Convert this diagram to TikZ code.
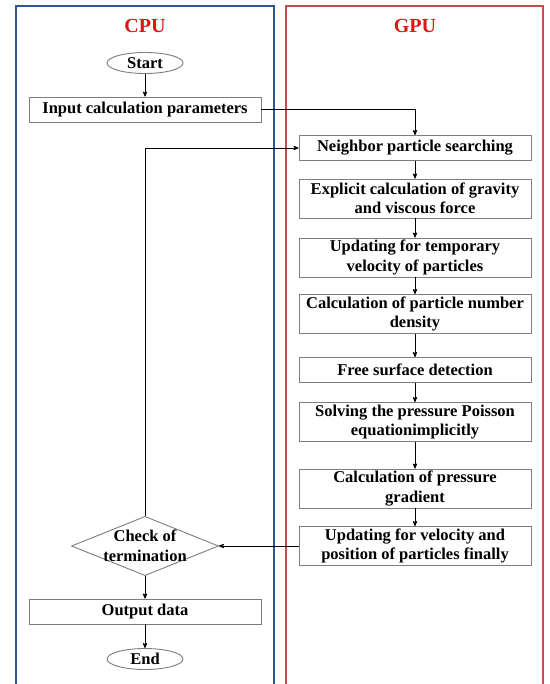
\documentclass[tikz,border=0pt]{standalone}
\usepackage{fontspec}
\setmainfont{Liberation Serif}
\usetikzlibrary{arrows}
\usetikzlibrary{shapes.geometric}
\definecolor{cpublue}{RGB}{46,84,150}
\definecolor{gpured}{RGB}{192,80,77}
\definecolor{titlered}{RGB}{225,20,20}
\definecolor{boxgray}{RGB}{125,125,125}

\begin{document}
\begin{tikzpicture}[x=1pt,y=-1pt,->,>=stealth',line width=0.8pt,
    proc node/.style={rectangle,draw=boxgray,line width=0.9pt,align=center,minimum width=232pt,minimum height=25pt,inner sep=2pt,font=\fontsize{16.5}{19.5}\selectfont\bfseries},
    tall node/.style={proc node,minimum height=39pt},
    term node/.style={ellipse,draw=boxgray,line width=0.9pt,minimum width=76pt,minimum height=21pt,inner sep=0pt,font=\fontsize{16.5}{19.5}\selectfont\bfseries},
    title node/.style={font=\fontsize{20}{24}\selectfont\bfseries,text=titlered}]
   \useasboundingbox (0,0) rectangle (549,684);
   % frames
   \draw[-,cpublue,line width=2.5pt] (16,6) rectangle (274,700);
   \draw[-,gpured,line width=2.5pt] (286,6) rectangle (543,700);
   \node[title node] (cputitle) at (145,26) {CPU};
   \node[title node] (gputitle) at (415,26) {GPU};
   % CPU side
   \node[term node] (start) at (145,63) {Start};
   \node[proc node] (input) at (145,109.5) {Input calculation parameters};
   \node[diamond,aspect=2.48,draw=boxgray,line width=0.9pt,inner sep=-2pt,align=center,font=\fontsize{16.5}{19.5}\selectfont\bfseries] (check) at (145,546) {Check of\\termination};
   \node[proc node] (output) at (145,611.5) {Output data};
   \node[term node] (finish) at (145,659) {End};
   % GPU side
   \node[proc node] (nbr) at (415,148) {Neighbor particle searching};
   \node[tall node] (grav) at (415,198.5) {Explicit calculation of gravity\\and viscous force};
   \node[tall node] (tempvel) at (415,257.5) {Updating for temporary\\velocity of particles};
   \node[tall node] (dens) at (415,314) {Calculation of particle number\\density};
   \node[proc node] (surf) at (415,370) {Free surface detection};
   \node[tall node] (poisson) at (415,422) {Solving the pressure Poisson\\equationimplicitly};
   \node[tall node] (grad) at (415,488.5) {Calculation of pressure\\gradient};
   \node[tall node] (finalvel) at (415,546) {Updating for velocity and\\position of particles finally};
   % connectors
   \path (start) edge (input);
   \draw (input.east) -| (nbr.north);
   \path (nbr) edge (grav);
   \path (grav) edge (tempvel);
   \path (tempvel) edge (dens);
   \path (dens) edge (surf);
   \path (surf) edge (poisson);
   \path (poisson) edge (grad);
   \path (grad) edge (finalvel);
   \draw (finalvel.west) -- (check.east);
   \draw (check.north) |- (nbr.west);
   \path (check) edge (output);
   \path (output) edge (finish);
\end{tikzpicture}
\end{document}
